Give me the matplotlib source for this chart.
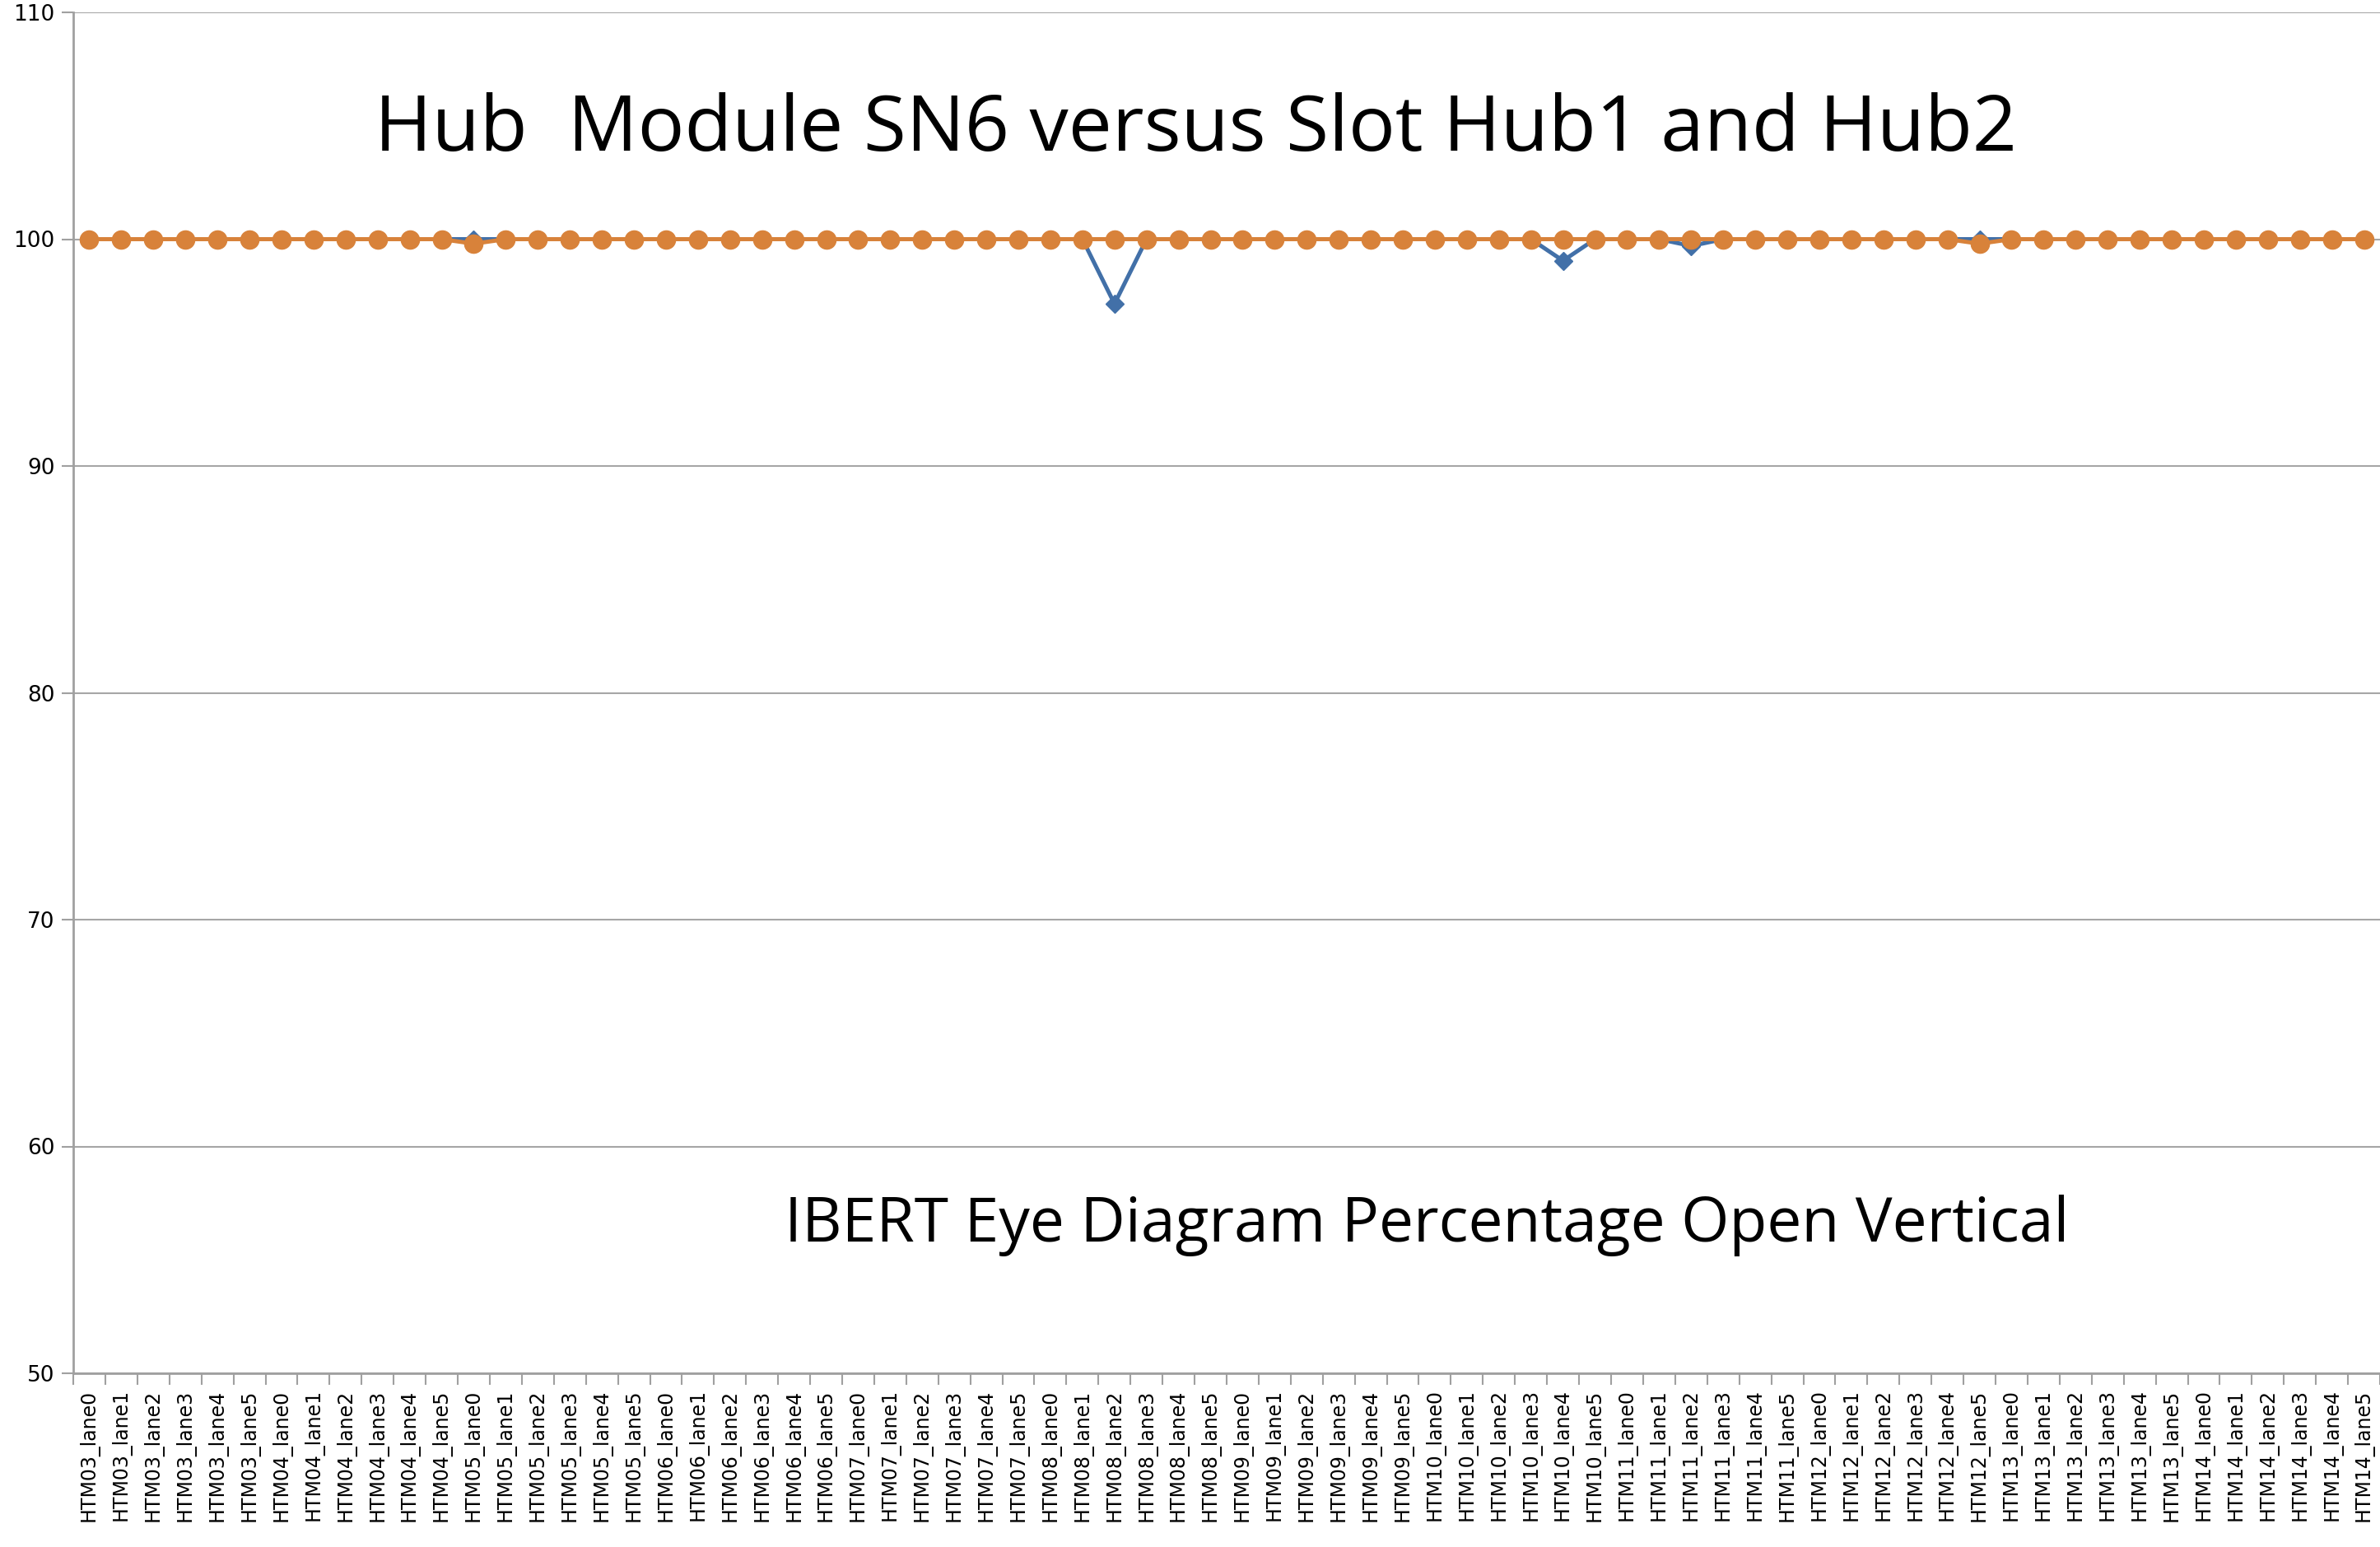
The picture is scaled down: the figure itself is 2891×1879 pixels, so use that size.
import matplotlib
matplotlib.use("Agg")
import matplotlib.pyplot as plt
import numpy as np

# categories: 12 modules x 6 lanes
modules = ['HTM03', 'HTM04', 'HTM05', 'HTM06', 'HTM07', 'HTM08',
           'HTM09', 'HTM10', 'HTM11', 'HTM12', 'HTM13', 'HTM14']
lanes = ['lane0', 'lane1', 'lane2', 'lane3', 'lane4', 'lane5']
labels = [m + '_' + l for m in modules for l in lanes]

# series values (percent open)
hub1 = [100] * 72
hub1[32] = 97.15   # HTM08_lane2
hub1[46] = 99.05   # HTM10_lane4
hub1[50] = 99.7    # HTM11_lane2

hub2 = [100] * 72
hub2[12] = 99.8    # HTM05_lane0
hub2[59] = 99.8    # HTM12_lane5

W, H = 2891, 1879
fig = plt.figure(figsize=(W / 100, H / 100), dpi=100)
ax = fig.add_axes([89 / W, 1 - 1668 / H, 1 - 89 / W, (1668 - 15) / H])

x = np.arange(len(labels))
ax.plot(x, hub1, color='#4270A8', lw=3.6, marker='D', ms=11, zorder=3)
ax.plot(x, hub2, color='#D8823A', lw=3.6, marker='o', ms=16, zorder=4)

ax.set_ylim(50, 110)
ax.set_yticks(range(50, 111, 10))
ax.set_xlim(-0.5, len(labels) - 0.5)
ax.set_xticks(x)
ax.set_xticklabels(labels, rotation=90, fontsize=17, family='DejaVu Sans')
ax.tick_params(axis='x', which='major', length=0, pad=14)
ax.set_xticks(np.arange(-0.5, len(labels), 1), minor=True)
ax.tick_params(axis='x', which='minor', length=10, width=1.5, color='#a0a0a0')
ax.tick_params(axis='y', length=10, width=1.5, color='#a0a0a0', labelsize=19, pad=6)

ax.grid(axis='y', color='#a6a6a6', lw=1.5)
ax.set_axisbelow(True)
for s in ['top', 'right']:
    ax.spines[s].set_visible(False)
for s in ['left', 'bottom']:
    ax.spines[s].set_color('#a0a0a0')
    ax.spines[s].set_linewidth(2)

fig.text(1452 / W, 1 - 158 / H, 'Hub  Module SN6 versus Slot Hub1 and Hub2',
         fontsize=68, family='Open Sans', ha='center', va='center')
fig.text(1733 / W, 1 - 1489 / H, 'IBERT Eye Diagram Percentage Open Vertical',
         fontsize=54, family='Open Sans', ha='center', va='center')

fig.savefig('out.png', dpi=100)
